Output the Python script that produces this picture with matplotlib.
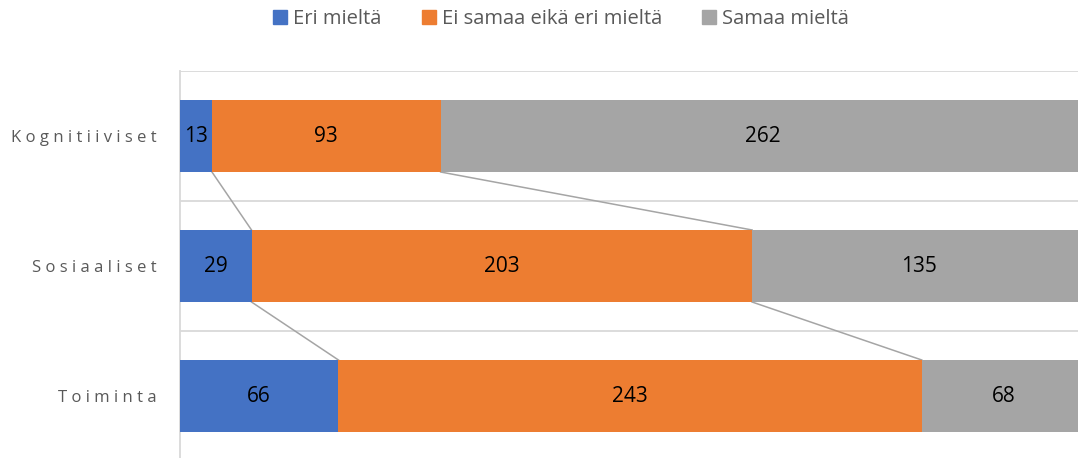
import numpy as np
import matplotlib
matplotlib.use('Agg')
from matplotlib import pyplot as plt
from matplotlib.patches import Patch

plt.rcParams['font.family'] = ['Open Sans', 'DejaVu Sans']

categories = ['Kognitiiviset', 'Sosiaaliset', 'Toiminta']
series_names = ['Eri mieltä', 'Ei samaa eikä eri mieltä', 'Samaa mieltä']
eri = [13, 29, 66]
ei_samaa = [93, 203, 243]
samaa = [262, 135, 68]
colors = ['#4472C4', '#ED7D31', '#A5A5A5']

vals = np.array([eri, ei_samaa, samaa], dtype=float)
pct = vals / vals.sum(axis=0) * 100
cum = np.cumsum(pct, axis=0)
starts = cum - pct

fig = plt.figure(figsize=(10.78, 4.58), dpi=100)
ax = fig.add_axes([180/1078, -3/458, 905/1078, 390/458])

y = np.arange(len(categories))
h = 0.554
for s in range(3):
    ax.barh(y, pct[s], left=starts[s], height=h, color=colors[s], zorder=3)
    for i in range(len(categories)):
        ax.text(starts[s][i] + pct[s][i] / 2, y[i], str(int(vals[s][i])),
                ha='center', va='center', fontsize=15, color='black', zorder=5)

# series lines between bars
for s in range(2):
    for i in range(len(categories) - 1):
        ax.plot([cum[s][i], cum[s][i + 1]], [y[i] + h / 2, y[i + 1] - h / 2],
                color='#A5A5A5', lw=1.1, zorder=2)

ax.set_ylim(len(categories) - 0.5, -0.5)
ax.set_xlim(0, 100)
for b in np.arange(-0.5, len(categories), 1):
    ax.axhline(b, color='#D9D9D9', lw=1.3, zorder=1)
for side in ['top', 'right', 'bottom']:
    ax.spines[side].set_visible(False)
ax.spines['left'].set_color('#D9D9D9')
ax.spines['left'].set_linewidth(1.3)
ax.set_xticks([])
ax.set_yticks(y)
ax.set_yticklabels([' '.join(c) for c in categories], fontsize=12, color='#595959')
ax.tick_params(axis='y', length=0, pad=16.5)

handles = [Patch(color=c) for c in colors]
fig.legend(handles, series_names, loc='center', bbox_to_anchor=(561/1078, 1 - 19/458),
           ncol=3, frameon=False, fontsize=14.5, labelcolor='#595959',
           handlelength=0.7, handleheight=0.7, handletextpad=0.3, columnspacing=2.0)

plt.savefig('out.png', dpi=100)
